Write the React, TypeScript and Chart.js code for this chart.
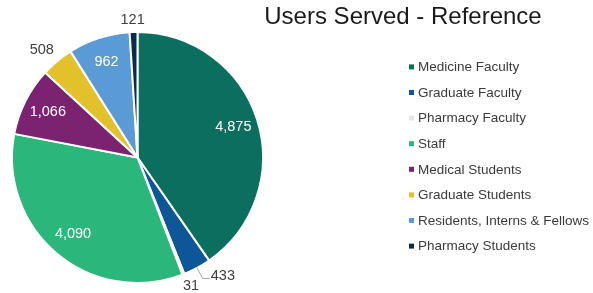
import React, { useEffect, useRef } from "react";
import { Chart, registerables } from "chart.js";

Chart.register(...registerables);

// ---- data ----
const categories = [
  "Medicine Faculty",
  "Graduate Faculty",
  "Pharmacy Faculty",
  "Staff",
  "Medical Students",
  "Graduate Students",
  "Residents, Interns & Fellows",
  "Pharmacy Students",
];
const usersServed = [4875, 433, 31, 4090, 1066, 508, 962, 121];
const sliceColors = [
  "#0b6e5f",
  "#0d5799",
  "#e6e6e6",
  "#2bb67c",
  "#7b2370",
  "#e2c12a",
  "#5a9bd5",
  "#0c2a4b",
];
const titleText = "Users Served - Reference";
// how each slice's value label is placed
const labelModes = ["in", "leader", "out", "in", "in", "out", "in", "out"];

const FONT = "'Liberation Sans', Arial, sans-serif";

const titlePlugin = {
  id: "sideTitle",
  afterDraw(chart: any) {
    const ctx = chart.ctx;
    ctx.save();
    ctx.font = `24px ${FONT}`;
    ctx.fillStyle = "#1a1a1a";
    ctx.textAlign = "center";
    ctx.textBaseline = "alphabetic";
    ctx.fillText(titleText, 403, 24);
    ctx.restore();
  },
};

const sideLegendPlugin = {
  id: "sideLegend",
  afterDraw(chart: any) {
    const ctx = chart.ctx;
    const area = chart.chartArea;
    const step = 25.6;
    const cy = (area.top + area.bottom) / 2 - 1;
    const n = categories.length;
    const y0 = cy - ((n - 1) / 2) * step;
    const boxX = 409;
    const textX = 418;
    ctx.save();
    ctx.font = `13.5px ${FONT}`;
    ctx.textAlign = "left";
    ctx.textBaseline = "middle";
    categories.forEach((label, i) => {
      const y = y0 + i * step;
      ctx.fillStyle = sliceColors[i];
      ctx.fillRect(boxX, y - 2.5, 5, 5);
      ctx.fillStyle = "#3a3a3a";
      ctx.fillText(label, textX, y + 0.5);
    });
    ctx.restore();
  },
};

const valueLabelPlugin = {
  id: "valueLabels",
  afterDatasetsDraw(chart: any) {
    const ctx = chart.ctx;
    const meta = chart.getDatasetMeta(0);
    ctx.save();
    ctx.font = `14.5px ${FONT}`;
    meta.data.forEach((arc: any, i: number) => {
      const p = arc.getProps(["x", "y", "startAngle", "endAngle", "outerRadius"], true);
      const mid = (p.startAngle + p.endAngle) / 2;
      const dx = Math.cos(mid);
      const dy = Math.sin(mid);
      const R = p.outerRadius;
      const text = usersServed[i].toLocaleString("en-US");
      const mode = labelModes[i];
      if (mode === "in") {
        ctx.fillStyle = "#ffffff";
        ctx.textAlign = "center";
        ctx.textBaseline = "middle";
        ctx.fillText(text, p.x + dx * R * 0.8, p.y + dy * R * 0.8);
      } else if (mode === "out") {
        const w = ctx.measureText(text).width;
        const h = 14;
        const ax = p.x + dx * (R + 5);
        const ay = p.y + dy * (R + 5);
        const clamp = (v: number) => Math.max(-1, Math.min(1, v));
        const cx = ax + clamp(dx * 2) * (w / 2);
        const cy = ay + clamp(dy * 2) * (h / 2);
        ctx.fillStyle = "#404040";
        ctx.textAlign = "center";
        ctx.textBaseline = "middle";
        ctx.fillText(text, cx, cy);
      } else {
        const sx = p.x + dx * (R - 1);
        const sy = p.y + dy * (R - 1);
        const ex = p.x + dx * (R + 12);
        const ey = p.y + dy * (R + 12);
        const side = dx >= 0 ? 1 : -1;
        const hx = ex + side * 7;
        ctx.strokeStyle = "#a6a6a6";
        ctx.lineWidth = 1;
        ctx.beginPath();
        ctx.moveTo(sx, sy);
        ctx.lineTo(ex, ey);
        ctx.lineTo(hx, ey);
        ctx.stroke();
        ctx.fillStyle = "#404040";
        ctx.textAlign = side > 0 ? "left" : "right";
        ctx.textBaseline = "middle";
        ctx.fillText(text, hx + side * 1, ey - 3);
      }
    });
    ctx.restore();
  },
};

export default function App() {
  const canvasRef = useRef<HTMLCanvasElement | null>(null);

  useEffect(() => {
    if (!canvasRef.current) return;
    const chart = new Chart(canvasRef.current, {
      type: "pie",
      data: {
        labels: categories,
        datasets: [
          {
            data: usersServed,
            backgroundColor: sliceColors,
            borderColor: "#ffffff",
            borderWidth: 2,
          },
        ],
      },
      options: {
        responsive: false,
        animation: false,
        layout: { padding: { left: 11, top: 31, right: 329, bottom: 9 } },
        plugins: {
          legend: { display: false },
          title: { display: false },
          tooltip: { enabled: false },
        },
      },
      plugins: [valueLabelPlugin, titlePlugin, sideLegendPlugin],
    });
    return () => chart.destroy();
  }, []);

  return (
    <div style={{ position: "fixed", left: 0, top: 0, width: 593, height: 293, background: "#ffffff" }}>
      <canvas ref={canvasRef} width={593} height={293} style={{ display: "block" }} />
    </div>
  );
}
